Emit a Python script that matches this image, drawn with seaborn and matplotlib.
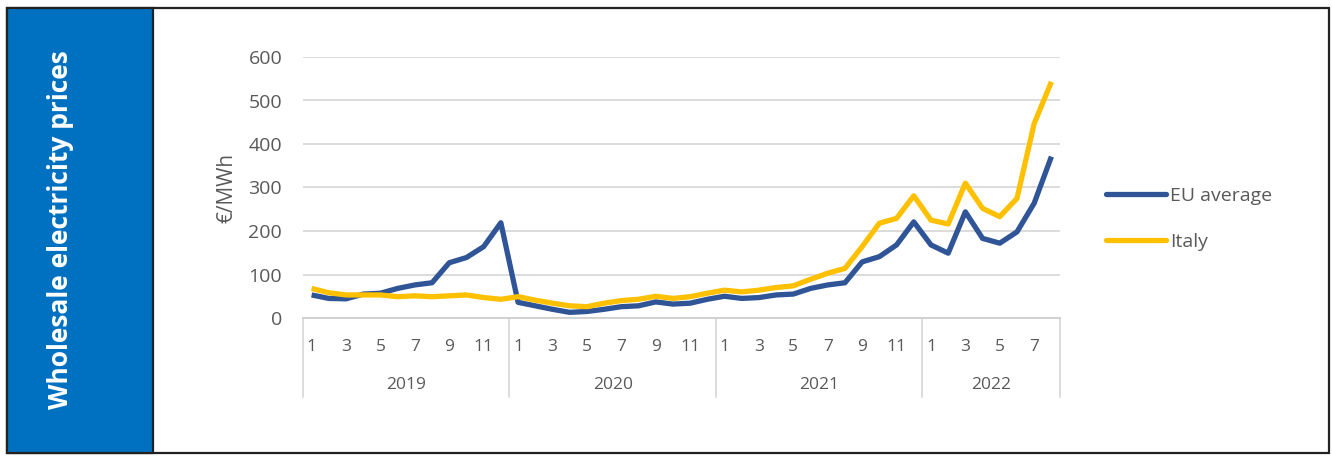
import matplotlib
matplotlib.use("Agg")
import matplotlib.pyplot as plt
from matplotlib.patches import Rectangle
from matplotlib.lines import Line2D
import numpy as np
import pandas as pd
import seaborn as sns

# Monthly wholesale electricity prices, €/MWh (Jan 2019 – Aug 2022)
years = ["2019", "2020", "2021", "2022"]
months_per_year = [12, 12, 12, 8]
eu_average = [
    53, 45, 44, 55, 57, 68, 76, 81, 127, 139, 164, 219,
    36, 28, 20, 13, 15, 20, 26, 28, 37, 32, 34, 43,
    50, 45, 47, 53, 55, 68, 76, 81, 129, 141, 168, 221,
    168, 149, 244, 183, 172, 198, 264, 371,
]
italy = [
    68, 58, 53, 53, 53, 49, 51, 49, 51, 53, 47, 43,
    49, 41, 34, 28, 26, 34, 40, 43, 50, 45, 49, 57,
    64, 60, 64, 70, 74, 89, 103, 114, 164, 218, 229, 281,
    225, 216, 310, 252, 233, 275, 447, 543,
]
series_names = ["EU average", "Italy"]
y_ticks = [0, 100, 200, 300, 400, 500, 600]

BLUE = "#2F5597"
GOLD = "#FFC000"
PANEL = "#0070C0"
TEXT = "#595959"
GRID = "#d9d9d9"

sns.set_theme(style="white")
plt.rcParams["font.family"] = ["Open Sans", "DejaVu Sans"]

# Build the long-form table with a running month index
month_numbers = [m for n in months_per_year for m in range(1, n + 1)]
idx = np.arange(len(month_numbers))
df = pd.DataFrame({
    "idx": np.concatenate([idx, idx]),
    "price": eu_average + italy,
    "series": [series_names[0]] * len(idx) + [series_names[1]] * len(idx),
})

fig = plt.figure(figsize=(13.32, 4.57), dpi=100)
W, H = 1332, 457

# Outer frame and the coloured title panel
fig.patches.append(Rectangle((7 / W, 1 - 453 / H), (1329 - 7) / W, (453 - 8) / H,
                             transform=fig.transFigure, fill=False,
                             edgecolor="#222222", linewidth=1.6, zorder=0))
fig.patches.append(Rectangle((7 / W, 1 - 453 / H), (153 - 7) / W, (453 - 8) / H,
                             transform=fig.transFigure, facecolor=PANEL,
                             edgecolor="#222222", linewidth=1.6, zorder=1))
fig.text(61 / W, 1 - 230 / H, "Wholesale electricity prices", rotation=90,
         color="white", fontsize=19, fontweight="bold", ha="center", va="center")

ax = fig.add_axes([303 / W, 1 - 318 / H, (1060 - 303) / W, (318 - 57) / H])

sns.lineplot(data=df, x="idx", y="price", hue="series",
             palette={series_names[0]: BLUE, series_names[1]: GOLD},
             hue_order=series_names, linewidth=3.8, ax=ax, legend=False)
for line in ax.get_lines():
    line.set_solid_joinstyle("round")
    line.set_solid_capstyle("butt")

ax.set_xlim(-0.5, len(idx) - 0.5)
ax.set_ylim(0, 600)
ax.set_yticks(y_ticks)
ax.set_yticklabels([str(v) for v in y_ticks])
ax.yaxis.grid(True, color=GRID, linewidth=1.3)
ax.set_axisbelow(True)
for side in ["top", "right", "left"]:
    ax.spines[side].set_visible(False)
ax.spines["bottom"].set_color("#cfcfcf")
ax.spines["bottom"].set_linewidth(1.3)

# Month labels every second month
tick_pos = idx[::2]
ax.set_xticks(tick_pos)
ax.set_xticklabels([str(month_numbers[i]) for i in tick_pos])
ax.tick_params(axis="x", length=0, pad=15, labelsize=12.5, labelcolor=TEXT)
ax.tick_params(axis="y", length=0, pad=15, labelsize=14, labelcolor=TEXT)
ax.set_xlabel("")
ax.set_ylabel("€/MWh", fontsize=15, color=TEXT, labelpad=8)

# Year groups below the month labels
xtr = ax.get_xaxis_transform()
bounds = np.concatenate([[0], np.cumsum(months_per_year)]) - 0.5
for b in bounds:
    ax.plot([b, b], [0, -0.303], transform=xtr, color=GRID,
            linewidth=1.3, clip_on=False)
for yr, lo, hi in zip(years, bounds[:-1], bounds[1:]):
    ax.text((lo + hi) / 2, -0.257, yr, transform=xtr, ha="center", va="center",
            fontsize=12.5, color=TEXT)

handles = [Line2D([0], [0], color=BLUE, linewidth=3.8),
           Line2D([0], [0], color=GOLD, linewidth=3.8)]
leg = ax.legend(handles, series_names, loc="center left",
                bbox_to_anchor=(1.037, 0.379), frameon=False, fontsize=14,
                handlelength=3.1, handletextpad=0.2, labelspacing=1.45)
for t in leg.get_texts():
    t.set_color(TEXT)

fig.savefig("out.png", dpi=100)
